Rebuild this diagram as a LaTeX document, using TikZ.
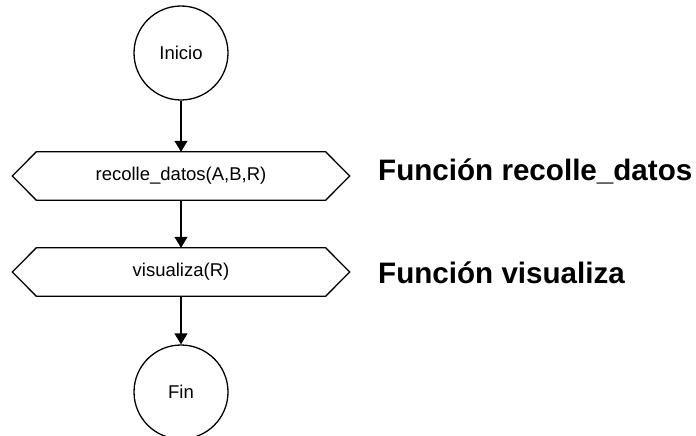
\documentclass[tikz,border=0pt]{standalone}
\usepackage{fontspec}
\setmainfont{Liberation Sans}
\usetikzlibrary{arrows.meta}
\begin{document}
\begin{tikzpicture}[x=1pt,y=-1pt,
  term/.style={circle,draw,line width=1.3pt,minimum size=94pt,inner sep=0pt,
    font=\fontsize{18.5}{21}\selectfont},
  iobox/.style={rectangle,minimum width=289pt,minimum height=48pt,inner sep=0pt,
    font=\fontsize{18.5}{21}\selectfont},
  hexline/.style={line width=1.3pt,line join=miter},
  flow/.style={-{Triangle[width=13pt,length=11pt]},line width=1.3pt},
  lbl/.style={anchor=base west,inner sep=0pt,font=\bfseries\fontsize{29.6}{34}\selectfont}]
\useasboundingbox (0,0) rectangle (696,436);

% terminals
\node[term] (ini) at (181,53) {Inicio};
\node[term] (fin) at (181,392) {Fin};

% subroutine calls
\node[iobox] (rd) at (181,176) {recolle\_datos(A,B,R)};
\node[iobox] (vz) at (181,272) {visualiza(R)};
\foreach \n in {rd,vz}{
  \draw[hexline] (\n.north west) -- (\n.north east) -- ([xshift=24pt]\n.east)
    -- (\n.south east) -- (\n.south west) -- ([xshift=-24pt]\n.west) -- cycle;
}

% flow
\draw[flow] (ini) -- (rd);
\draw[flow] (rd) -- (vz);
\draw[flow] (vz) -- (fin);

% captions
\node[lbl] (crd) at (378,180) {Función recolle\_datos};
\node[lbl] (cvz) at (378,283) {Función visualiza};
\end{tikzpicture}
\end{document}
